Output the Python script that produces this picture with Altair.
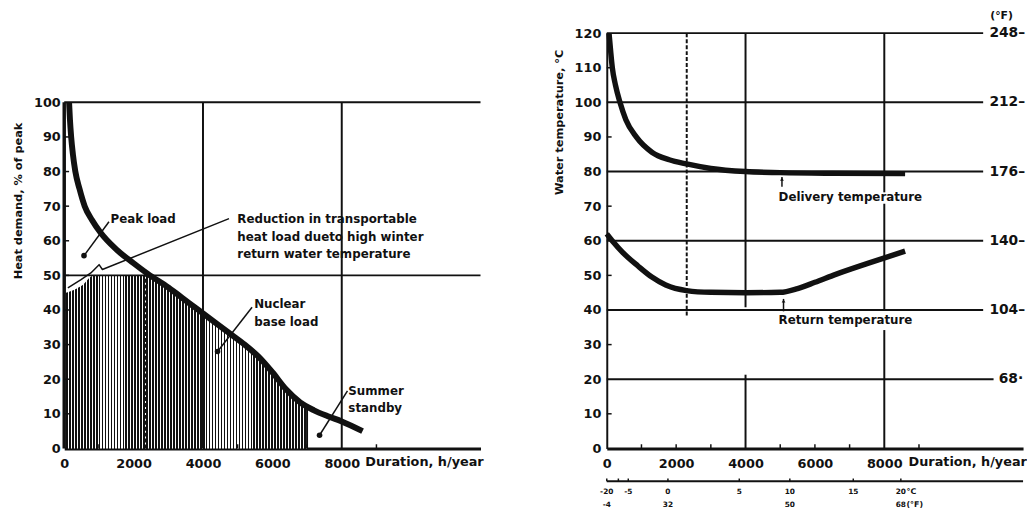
import altair as alt
import pandas as pd

# ---------------- data ----------------
# Left panel: heat load duration curve (% of peak vs h/year)
heat_x = [140, 165, 200, 250, 320, 440, 590, 800, 1050, 1500, 2000, 2400, 3000, 3600,
          4200, 4800, 5200, 5600, 6000, 6400, 6800, 7200, 7600, 8000, 8600]
heat_y = [100, 95, 90, 85, 80, 75, 70, 66, 62.3, 57.5, 53.5, 50.5, 46.5, 42,
          37.5, 33, 30, 26.5, 22, 17, 13.3, 11, 9.3, 7.8, 5]
# Nuclear base load (hatched region upper boundary)
base_x = [50, 200, 500, 850, 2390, 3000, 3600, 4200, 4800, 5200, 5600, 6000, 6400, 6800, 7000]
base_y = [45, 45.5, 47, 50, 50, 46.5, 42, 37.5, 33, 30, 26.5, 22, 17, 13.3, 12.3]
# Reduction of transportable heat load (thin line + leader)
red_x = [105, 484, 768, 1005, 1100, 4750]
red_y = [46.4, 48.8, 50.7, 53.1, 51.7, 66.4]

# Right panel: water temperatures (deg C vs h/year)
deliv_x = [65, 110, 160, 250, 380, 550, 850, 1300, 1800, 2300, 3000, 4000, 5000, 6500, 8600]
deliv_y = [120, 115, 110, 105, 100, 95, 90, 85.6, 83.4, 82.2, 80.9, 80, 79.7, 79.5, 79.4]
ret_x = [0, 200, 450, 900, 1300, 1700, 2300, 3000, 4000, 5000, 5500, 6000, 6600, 7500, 8600]
ret_y = [62, 59.5, 56.7, 52.7, 49.5, 47.2, 45.6, 45.1, 45, 45.1, 46.2, 48, 50.3, 53.4, 57]

# Tick labels
left_x_ticks = [0, 2000, 4000, 6000, 8000]
left_y_ticks = [0, 10, 20, 30, 40, 50, 60, 70, 80, 90, 100]
right_y_ticks = [0, 10, 20, 30, 40, 50, 60, 70, 80, 90, 100, 110, 120]
f_vals = [120, 100, 80, 60, 40, 20]
f_labels = ["248–", "212–", "176–", "140–", "104–", "68·"]
# Outdoor temperature scale under the right panel (position on duration axis)
tc_labels = ["-20", "", "-5", "0", "5", "10", "15", "20"]
tc_pos = [0, 334, 620, 1763, 3820, 5277, 7106, 8477]
tf_labels = ["-4", "32", "50", "68"]
tf_pos = [0, 1763, 5277, 8477]

# ---------------- styling ----------------
FONT = "DejaVu Sans"
INK = "#111111"
W, H = 422, 421
xs = alt.Scale(domain=[0, 12000], nice=False, zero=False)
ys = alt.Scale(domain=[0, 120], nice=False, zero=False)

lab = dict(labelFont=FONT, labelFontWeight="bold", labelFontSize=13, labelColor=INK,
           ticks=False, grid=False, title=None)
x_axis = alt.Axis(values=left_x_ticks, format="d", domain=True, domainColor=INK,
                  domainWidth=3, labelPadding=9, labelFlush=False, **lab)
ly_axis = alt.Axis(values=left_y_ticks, format="d", domain=False, labelPadding=4, **lab)
ry_axis = alt.Axis(values=right_y_ticks, format="d", domain=True, domainColor=INK,
                   domainWidth=2, labelPadding=6, **lab)


class Panel:
    def __init__(self, ax, ay):
        self.ax, self.ay = ax, ay

    def X(self):
        return alt.X("x:Q", scale=xs, axis=self.ax, title=None)

    def Y(self):
        return alt.Y("y:Q", scale=ys, axis=self.ay, title=None)

    def segs(self, rows, width=2, dash=None, color=INK):
        df = pd.DataFrame(rows, columns=["x", "y", "x2", "y2"])
        kw = dict(color=color, strokeWidth=width)
        if dash:
            kw["strokeDash"] = dash
        return alt.Chart(df).mark_rule(**kw).encode(
            x=self.X(), y=self.Y(), x2="x2:Q", y2="y2:Q")

    def line(self, xv, yv, width=5.5, interp="monotone"):
        df = pd.DataFrame({"x": xv, "y": yv})
        return alt.Chart(df).mark_line(color=INK, strokeWidth=width, interpolate=interp,
                                       strokeCap="butt", strokeJoin="round").encode(
            x=self.X(), y=self.Y())

    def texts(self, rows, size=12, align="left", angle=0):
        df = pd.DataFrame(rows, columns=["x", "y", "t"])
        kw = dict(align=align, baseline="middle", font=FONT, fontWeight="bold",
                  fontSize=size, color=INK)
        if angle:
            kw["angle"] = angle
        return alt.Chart(df).mark_text(**kw).encode(x=self.X(), y=self.Y(), text="t:N")

    def dots(self, rows):
        df = pd.DataFrame(rows, columns=["x", "y"])
        return alt.Chart(df).mark_circle(color=INK, opacity=1, size=32).encode(
            x=self.X(), y=self.Y())


# vertical-stripe hatch as a hard-stop gradient (about 3 px per stripe)
stops = []
n = 81
for i in range(n):
    duty = 0.6 if i < 28 else 0.55
    a, b, c = i / n, (i + duty) / n, (i + 1) / n
    stops += [alt.GradientStop(offset=a, color=INK), alt.GradientStop(offset=b, color=INK),
              alt.GradientStop(offset=b, color="white"), alt.GradientStop(offset=c, color="white")]
hatch = alt.Gradient(gradient="linear", stops=stops, x1=0, x2=1, y1=0, y2=0)

# ---------------- left panel ----------------
L = Panel(x_axis, ly_axis)
base_df = pd.DataFrame({"x": base_x, "y": base_y})

left = alt.layer(
    alt.Chart(base_df).mark_area(fill=hatch, interpolate="monotone").encode(x=L.X(), y=L.Y()),
    L.segs([[0, 100, 12000, 100], [0, 50, 12000, 50], [4000, 0, 4000, 100],
            [8000, 0, 8000, 100], [7000, 0, 7000, 12.3]], width=2),
    L.segs([[2330, 0, 2330, 50]], width=3, dash=[4, 2]),
    L.segs([[0, 0, 0, 100]], width=3.5),
    L.segs([[0, v, 140, v] for v in left_y_ticks[1:-1]], width=1.5),
    L.segs([[v, 0, v, 1.2] for v in [1000, 3000, 5000, 7000, 9000]], width=1.5),
    L.line(heat_x, heat_y, width=6),
    L.line(red_x, red_y, width=1.5, interp="linear"),
    L.segs([[570, 55.7, 1290, 65.5], [4420, 28, 5415, 40.8], [7360, 3.8, 8165, 16.6]],
           width=1.5),
    L.dots([[570, 55.7], [4420, 28], [7360, 3.8]]),
    L.texts([[1333, 66.3, "Peak load"],
             [4990, 66.3, "Reduction in transportable"],
             [4990, 61.2, "heat load dueto high winter"],
             [4990, 56.3, "return water temperature"],
             [5476, 41.7, "Nuclear"],
             [5476, 36.5, "base load"],
             [8190, 16.6, "Summer"],
             [8190, 11.8, "standby"]]),
    L.texts([[8680, -4.0, "Duration, h/year"]], size=13),
    L.texts([[-1290, 71.5, "Heat demand, % of peak"]], size=11.5, align="center", angle=270),
).properties(width=W, height=H)

# ---------------- right panel ----------------
R = Panel(x_axis, ry_axis)
grid_r = [[0, v, 10850, v] for v in [120, 100, 80, 60, 40]] + [[0, 20, 11150, 20]]
tc_df = pd.DataFrame({"x": tc_pos, "y": [-12.6] * len(tc_pos), "t": tc_labels})
tf_df = pd.DataFrame({"x": tf_pos, "y": [-16.5] * len(tf_pos), "t": tf_labels})

right = alt.layer(
    R.segs(grid_r, width=2),
    R.segs([[4000, 0, 4000, 21.3], [4000, 40.8, 4000, 120],
            [8000, 0, 8000, 34.2], [8000, 39.8, 8000, 70.7], [8000, 74, 8000, 120]], width=2),
    R.segs([[2305, 38.4, 2305, 120]], width=2, dash=[4, 2]),
    R.segs([[0, v, 140, v] for v in [10, 30, 50, 70, 90, 110]], width=1.5),
    R.segs([[v, 0, v, 1.2] for v in [1000, 2000, 3000, 5000, 6000, 7000, 9000]], width=1.5),
    R.line(deliv_x, deliv_y, width=5.5),
    R.line(ret_x, ret_y, width=5.5),
    R.segs([[5050, 75.6, 5050, 78.4], [5095, 39.6, 5095, 43.2]], width=1.5),
    alt.Chart(pd.DataFrame({"x": [5050, 5095], "y": [77.8, 42.6]})).mark_point(
        shape="triangle-up", filled=True, color=INK, opacity=1, size=14).encode(
        x=R.X(), y=R.Y()),
    R.texts([[4952, 72.6, "Delivery temperature"],
             [4952, 37.0, "Return temperature"]]),
    R.texts([[8700, -4.0, "Duration, h/year"]], size=13),
    R.texts([[11030, v, t] for v, t in zip(f_vals[:-1], f_labels[:-1])] +
            [[11300, f_vals[-1], f_labels[-1]]], size=14),
    R.texts([[11380, 124.9, "(°F)"]], size=11, align="center"),
    R.texts([[-1340, 94.2, "Water temperature, °C"]], size=11.5, align="center", angle=270),
    # outdoor temperature scale
    R.segs([[0, -9.5, 12000, -9.5]], width=2),
    R.segs([[p, -9.5, p, -8.7] for p in tc_pos], width=1.5),
    alt.Chart(tc_df).mark_text(font=FONT, fontWeight="bold", fontSize=7.5, color=INK,
                               baseline="middle").encode(x=R.X(), y=R.Y(), text="t:N"),
    alt.Chart(tf_df).mark_text(font=FONT, fontWeight="bold", fontSize=7.5, color=INK,
                               baseline="middle").encode(x=R.X(), y=R.Y(), text="t:N"),
    R.texts([[8640, -12.6, "°C"], [8640, -16.5, "(°F)"]], size=8),
).properties(width=W, height=H)

chart = alt.hconcat(left, right, spacing=128, bounds="flush").properties(
    padding={"left": 5, "top": -2, "right": 0, "bottom": 0},
    background="white",
).configure_view(stroke=None)

chart.save("out.html", embed_options={"renderer": "svg", "actions": False})
